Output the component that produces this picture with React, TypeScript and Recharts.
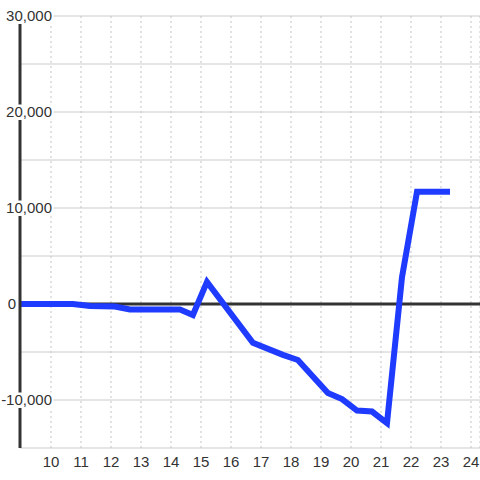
import React from 'react';
import {
  LineChart,
  Line,
  XAxis,
  YAxis,
  CartesianGrid,
  ReferenceLine,
} from 'recharts';

// values
const hours = [9, 10.73, 11.3, 12.13, 12.63, 14.3, 14.73, 15.2, 16.73, 17.73, 18.23, 19.23, 19.7, 20.2, 20.7, 21.2, 21.7, 22.2, 23.3];
const values = [0, 0, -210, -260, -570, -570, -1150, 2300, -4030, -5300, -5830, -9270, -9900, -11100, -11200, -12400, 2800, 11700, 11700];

const xTicks = [10, 11, 12, 13, 14, 15, 16, 17, 18, 19, 20, 21, 22, 23, 24];
const yTicks = [-15000, -10000, -5000, 0, 5000, 10000, 15000, 20000, 25000, 30000];
const yLabelled = [-10000, 0, 10000, 20000, 30000];

const data = hours.map((h, i) => ({ h, v: values[i] }));

const FONT = '"Liberation Sans", Arial, sans-serif';

function YTick(props: any) {
  const { y, payload } = props;
  const value = payload.value;
  if (!yLabelled.includes(value)) return null;
  const label = value.toLocaleString('en-US');
  const approxWidth = label.length * 8.1;
  const right = value === 0 ? 16 : 52;
  return (
    <g>
      {value !== 0 && (
        <rect x={right - approxWidth - 1} y={y - 7.5} width={approxWidth + 2.5} height={15.5} fill="#fff" />
      )}
      <text x={right} y={y} dy="0.36em" textAnchor="end" fontSize={15} fontFamily={FONT} fill="#333">
        {label}
      </text>
    </g>
  );
}

export default function App() {
  return (
    <div style={{ position: 'absolute', left: 0, top: 0, width: 480, height: 480, background: '#fff' }}>
      <LineChart width={480} height={480} data={data} margin={{ top: 16, right: 0, bottom: 0, left: 0 }}>
        <CartesianGrid horizontal vertical={false} stroke="#ccc" />
        <CartesianGrid horizontal={false} vertical stroke="#c4c4c4" strokeDasharray="2 3" />
        <XAxis
          dataKey="h"
          type="number"
          domain={[8.967, 24.3]}
          allowDataOverflow
          ticks={xTicks}
          axisLine={false}
          tickLine={false}
          height={32}
          tick={{ fontSize: 15, fontFamily: FONT, fill: '#333' }}
          interval={0}
        />
        <YAxis
          type="number"
          domain={[-15000, 30000]}
          ticks={yTicks}
          width={20}
          tickLine={false}
          axisLine={{ stroke: '#333', strokeWidth: 3 }}
          tick={<YTick />}
          interval={0}
        />
        <ReferenceLine y={0} stroke="#333" strokeWidth={3} />
        <Line
          type="linear"
          dataKey="v"
          stroke="#1f3bff"
          strokeWidth={6}
          dot={false}
          activeDot={false}
          isAnimationActive={false}
        />
      </LineChart>
    </div>
  );
}
